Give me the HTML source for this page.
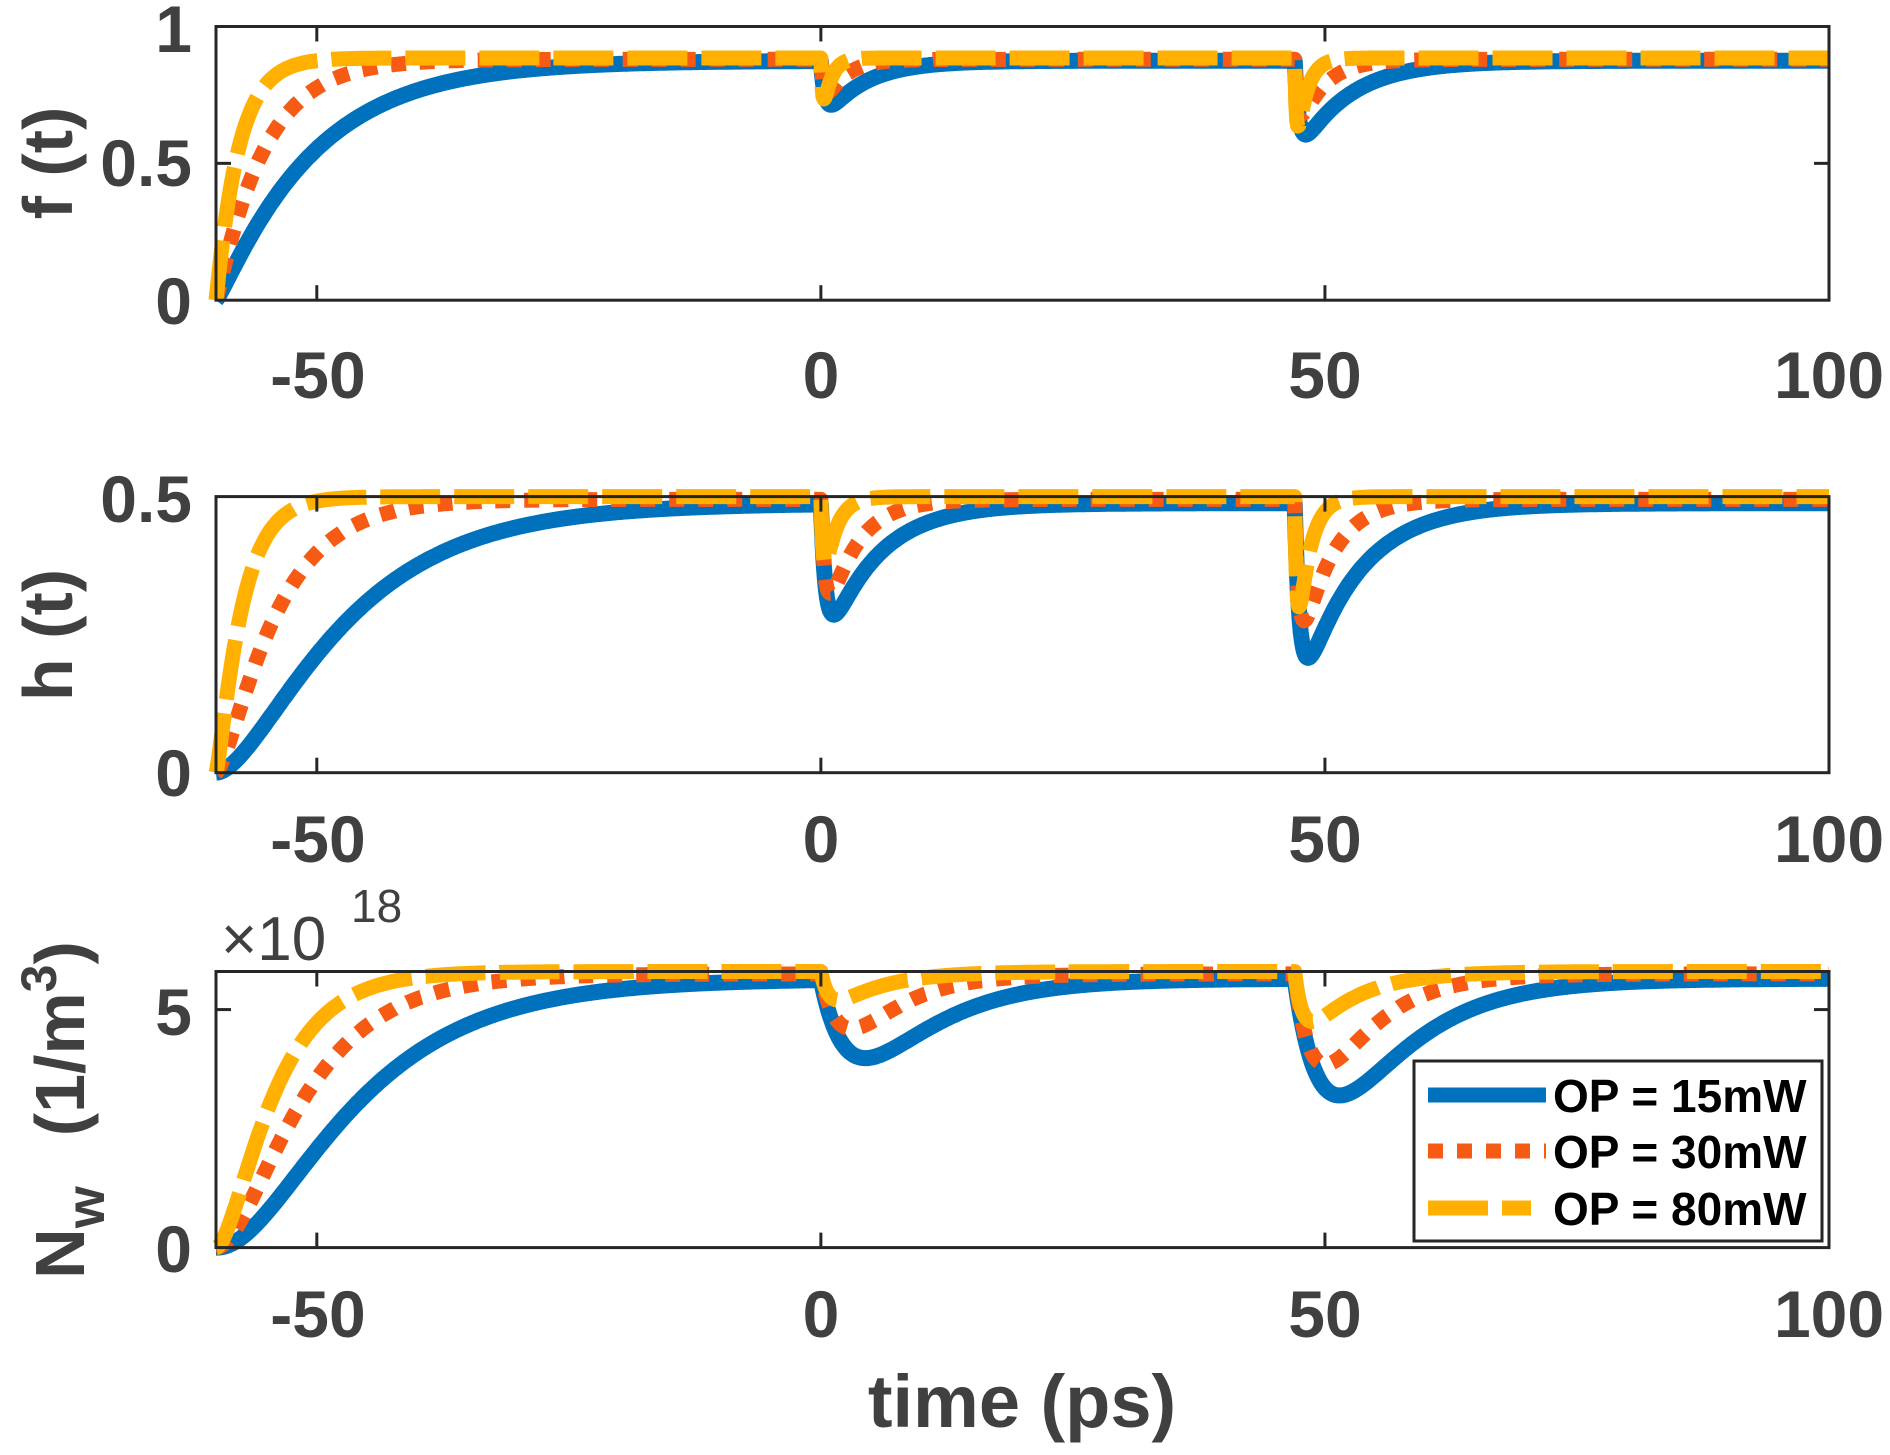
<!DOCTYPE html>
<html><head><meta charset="utf-8"><style>
html,body{margin:0;padding:0;background:#fff;}
svg{display:block}
text{font-family:"Liberation Sans",Arial,sans-serif;font-weight:bold;}
</style></head><body>
<svg id="s" width="1890" height="1455" viewBox="0 0 1890 1455" xmlns="http://www.w3.org/2000/svg">
<rect width="1890" height="1455" fill="#fff"/>
<g id="plots"></g>
<g fill="#404040" font-size="66" text-anchor="middle">
<text x="318" y="398">-50</text><text x="821" y="398">0</text><text x="1325" y="398">50</text><text x="1829" y="398">100</text>
<text x="318" y="862">-50</text><text x="821" y="862">0</text><text x="1325" y="862">50</text><text x="1829" y="862">100</text>
<text x="318" y="1337">-50</text><text x="821" y="1337">0</text><text x="1325" y="1337">50</text><text x="1829" y="1337">100</text>
</g>
<g fill="#404040" font-size="66" text-anchor="end">
<text x="192" y="52">1</text><text x="192" y="186">0.5</text><text x="192" y="324">0</text>
<text x="192" y="522">0.5</text><text x="192" y="796">0</text>
<text x="192" y="1035">5</text><text x="192" y="1272">0</text>
</g>
<text x="221" y="960" fill="#404040" font-size="62" style="font-weight:normal">×10</text>
<text x="351" y="922" fill="#404040" font-size="46" style="font-weight:normal">18</text>
<g fill="#404040" font-size="70" text-anchor="middle">
<text transform="translate(72,163) rotate(-90)">f (t)</text>
<text transform="translate(72,635) rotate(-90)">h (t)</text>
<text transform="translate(84,1110) rotate(-90)">N<tspan font-size="54" dy="20">w</tspan><tspan dy="-20" dx="50">(1/m</tspan><tspan font-size="50" dy="-28">3</tspan><tspan dy="28">)</tspan></text>
<text x="1022" y="1427" font-size="74">time (ps)</text>
</g>
<g>
<rect x="1414" y="1061" width="408" height="180" fill="#fff" stroke="#262626" stroke-width="3"/>
<line x1="1428" y1="1095" x2="1546" y2="1095" stroke="#0072bd" stroke-width="15"/>
<line x1="1428" y1="1151" x2="1546" y2="1151" stroke="#f75a12" stroke-width="15" stroke-dasharray="15 14"/>
<line x1="1428" y1="1208" x2="1531" y2="1208" stroke="#ffb000" stroke-width="15" stroke-dasharray="60 14"/>
<g fill="#000" font-size="46"><text x="1553" y="1112">OP = 15mW</text><text x="1553" y="1168">OP = 30mW</text><text x="1553" y="1225">OP = 80mW</text></g>
</g>
</svg>
<script>
var L=216,R=1829;
function X(t){return L+(t+60)/160*(R-L);}
var axes=[{top:26.5,bot:300.2,max:1},{top:496.6,bot:772.7,max:0.5},{top:971.5,bot:1247.6,max:5.8}];
function norm(tr,td){var m=0;for(var s=0;s<100;s+=0.05){var v=Math.exp(-s/td)-Math.exp(-s/tr);if(v>m)m=v;}return m;}
function pulse(t,t0,d,tr,td){ if(t<t0) return 0; var s=t-t0; return d*(Math.exp(-s/td)-Math.exp(-s/tr))/norm(tr,td);}
function rise(t,sat,tau,p){var s=t+60;if(s<0)return 0;return sat*Math.pow(1-Math.exp(-s/tau),p);}
var P=[
 [{sat:0.875,tau:9,p:1.15,d:[[0,0.16,0.4,4],[47,0.27,0.4,5]]},
  {sat:0.88,tau:4.5,p:1.1,d:[[0,0.12,0.3,2],[47,0.2,0.3,2.5]]},
  {sat:0.885,tau:2.2,p:1.05,d:[[0,0.15,0.15,0.8],[47,0.25,0.15,1]]}],
 [{sat:0.488,tau:10,p:1.8,d:[[0,0.2,0.5,5],[47,0.28,0.5,5.5]]},
  {sat:0.495,tau:5,p:1.5,d:[[0,0.17,0.4,3],[47,0.22,0.4,3]]},
  {sat:0.5,tau:2.3,p:1.3,d:[[0,0.12,0.2,1.2],[47,0.2,0.2,1.2]]}],
 [{sat:5.65,tau:10,p:2.2,d:[[0,1.65,3,7],[47,2.45,3,7]]},
  {sat:5.75,tau:6.5,p:2.0,d:[[0,1.15,2,5],[47,1.9,2,5]]},
  {sat:5.8,tau:4.5,p:1.8,d:[[0,0.6,0.8,5],[47,1.05,0.8,5]]}]];
var styles=[{c:"#0072bd",w:16,da:""},{c:"#f75a12",w:15,da:"15 14"},{c:"#ffb000",w:15,da:"60 14"}];
var g=document.getElementById("plots"),out="";
axes.forEach(function(a,ai){
 out+='<rect x="'+L+'" y="'+a.top+'" width="'+(R-L)+'" height="'+(a.bot-a.top)+'" fill="#fff"/>';
 for(var si=0;si<3;si++){
  var q=P[ai][si],pts=[];
  for(var t=-60;t<=100;t+=0.1){
   var v=rise(t,q.sat,q.tau,q.p);
   q.d.forEach(function(d){v-=pulse(t,d[0],d[1],d[2],d[3]);});
   var y=a.bot-(v/a.max)*(a.bot-a.top);
   pts.push(X(t).toFixed(1)+","+y.toFixed(1));
  }
  var st=styles[si];
  out+='<polyline points="'+pts.join(" ")+'" fill="none" stroke="'+st.c+'" stroke-width="'+st.w+'" stroke-linejoin="round" '+(st.da?'stroke-dasharray="'+st.da+'"':'')+'/>';
 }
 out+='<rect x="'+L+'" y="'+a.top+'" width="'+(R-L)+'" height="'+(a.bot-a.top)+'" fill="none" stroke="#262626" stroke-width="3"/>';
 [-50,0,50].forEach(function(t){var x=X(t);out+='<line x1="'+x+'" y1="'+a.bot+'" x2="'+x+'" y2="'+(a.bot-15)+'" stroke="#262626" stroke-width="3"/><line x1="'+x+'" y1="'+a.top+'" x2="'+x+'" y2="'+(a.top+15)+'" stroke="#262626" stroke-width="3"/>';});
 var yt=ai==0?[0.5]:(ai==2?[5]:[]);
 yt.forEach(function(v){var y=a.bot-v/a.max*(a.bot-a.top);out+='<line x1="'+L+'" y1="'+y+'" x2="'+(L+15)+'" y2="'+y+'" stroke="#262626" stroke-width="3"/><line x1="'+R+'" y1="'+y+'" x2="'+(R-15)+'" y2="'+y+'" stroke="#262626" stroke-width="3"/>';});
});
g.innerHTML=out;
</script>
</body></html>
